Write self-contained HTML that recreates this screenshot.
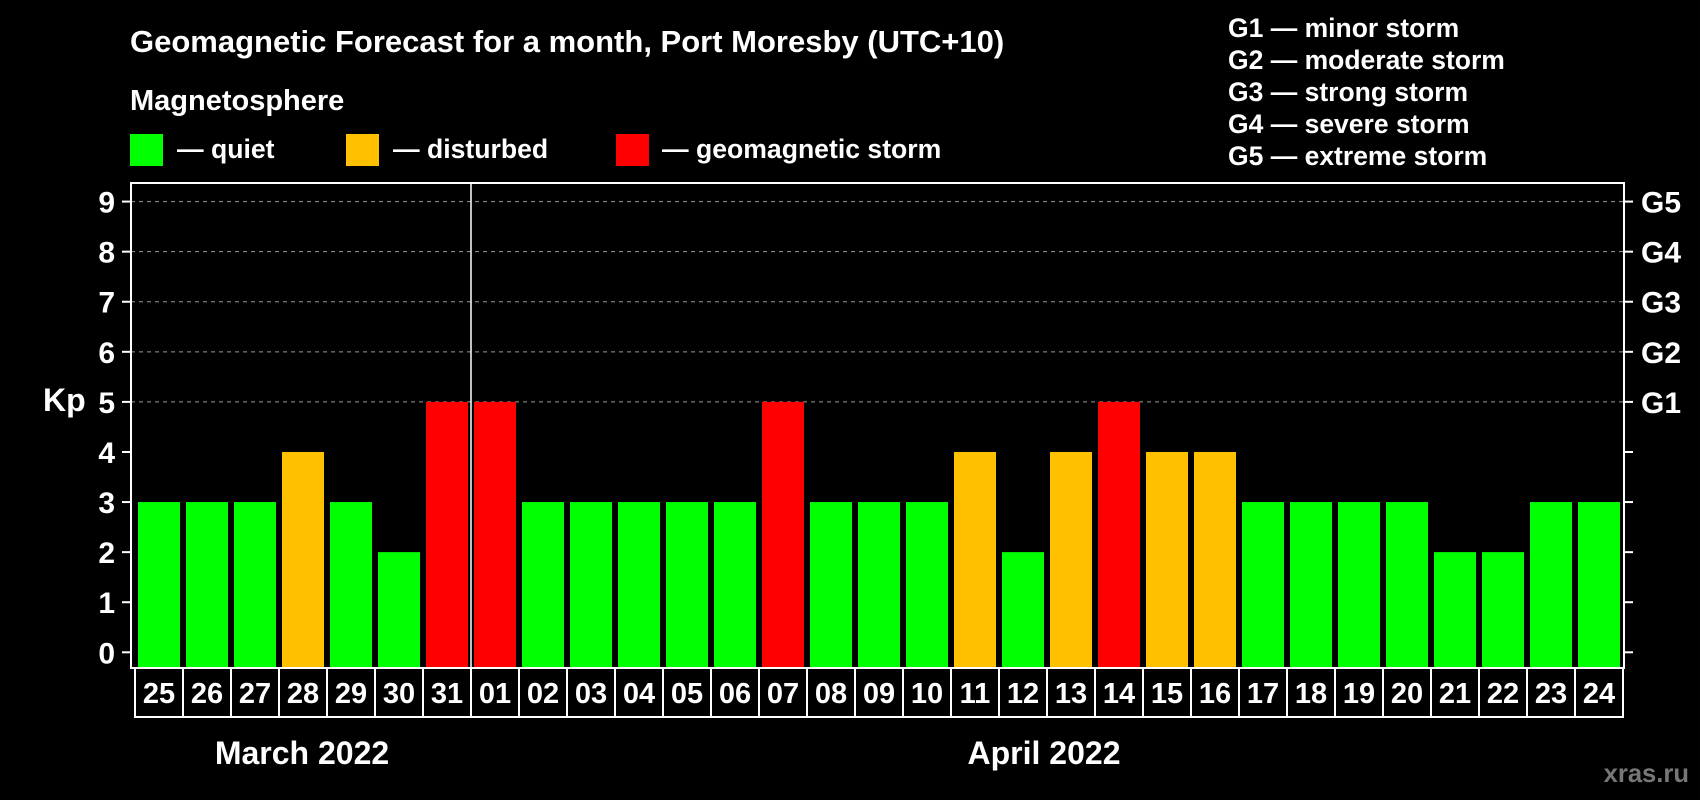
<!DOCTYPE html>
<html><head><meta charset="utf-8"><style>
html,body{margin:0;padding:0;background:#000;width:1700px;height:800px;overflow:hidden}
svg{display:block;font-family:"Liberation Sans",Arial,sans-serif;font-weight:bold}
</style></head><body>
<svg id="chart" width="1700" height="800" viewBox="0 0 1700 800">
<text x="130" y="52" fill="#fff" font-size="31">Geomagnetic Forecast for a month, Port Moresby (UTC+10)</text>
<text x="130" y="110" fill="#fff" font-size="29">Magnetosphere</text>
<g><rect x="130" y="134" width="33" height="32" fill="#00ff00"/><text x="177" y="158" fill="#fff" font-size="26.6">— quiet</text></g>
<g><rect x="346" y="134" width="33" height="32" fill="#ffc000"/><text x="393" y="158" fill="#fff" font-size="26.6">— disturbed</text></g>
<g><rect x="616" y="134" width="33" height="32" fill="#ff0000"/><text x="662" y="158" fill="#fff" font-size="26.6">— geomagnetic storm</text></g>
<g fill="#fff" font-size="26.5">
<text x="1228" y="37">G1 — minor storm</text>
<text x="1228" y="69">G2 — moderate storm</text>
<text x="1228" y="101">G3 — strong storm</text>
<text x="1228" y="133">G4 — severe storm</text>
<text x="1228" y="165">G5 — extreme storm</text>
</g>
<text x="43" y="411" fill="#fff" font-size="32">Kp</text>
<text x="302" y="764" fill="#fff" font-size="32" text-anchor="middle">March 2022</text>
<text x="1044" y="764" fill="#fff" font-size="32" text-anchor="middle">April 2022</text>
<text x="1689" y="782" fill="#777" font-size="25.6" text-anchor="end">xras.ru</text>
<g id="plot"></g>
</svg>
<script>
const days = ["25","26","27","28","29","30","31","01","02","03","04","05","06","07","08","09","10","11","12","13","14","15","16","17","18","19","20","21","22","23","24"];
const kpValues = [3,3,3,4,3,2,5,5,3,3,3,3,3,5,3,3,3,4,2,4,5,4,4,3,3,3,3,2,2,3,3];
const yTicks = [0,1,2,3,4,5,6,7,8,9];
const gLabels = ["G1","G2","G3","G4","G5"];
const gLevels = [5,6,7,8,9];
const monthSplit = 7;

const NS = "http://www.w3.org/2000/svg";
const plot = document.getElementById("plot");
const L = 131, R = 1624, T = 183, B = 668;
const x0 = 135, pitch = 48, barW = 42;
const y = v => 652.3 - v * 50.08;
const xBand = i => x0 + i * pitch;
function mk(tag, attrs, parent) {
  const e = document.createElementNS(NS, tag);
  for (const k in attrs) e.setAttribute(k, attrs[k]);
  (parent || plot).appendChild(e);
  return e;
}
gLevels.forEach(v => {
  const g = mk("line", {x1: L, x2: R, y1: y(v), y2: y(v), stroke: "#999", "stroke-width": 1, "stroke-dasharray": "4,4"});
  
  
});
kpValues.forEach((v, i) => {
  const c = v >= 5 ? "#ff0000" : v >= 4 ? "#ffc000" : "#00ff00";
  const r = mk("rect", {x: xBand(i) + 3, y: y(v), width: barW, height: B - y(v), fill: c});
  
  
});
const fr = mk("rect", {x: L, y: T, width: R - L, height: B - T, fill: "none", stroke: "#fff", "stroke-width": 2});


const sep = mk("line", {x1: xBand(monthSplit), x2: xBand(monthSplit), y1: T, y2: B, stroke: "#fff", "stroke-width": 1.5});


yTicks.forEach(v => {
  mk("line", {x1: L - 9, x2: L, y1: y(v), y2: y(v), stroke: "#fff", "stroke-width": 2});
  mk("line", {x1: R, x2: R + 9, y1: y(v), y2: y(v), stroke: "#fff", "stroke-width": 2});
  const t = mk("text", {x: 115, y: y(v) + 11, fill: "#fff", "font-size": 30, "text-anchor": "end"});
  t.textContent = v;
  
  
});
gLabels.forEach((g, i) => {
  const t = mk("text", {x: 1641, y: y(gLevels[i]) + 11, fill: "#fff", "font-size": 30});
  t.textContent = g;
  
  
});
days.forEach((d, i) => {
  const bx = mk("rect", {x: xBand(i), y: B, width: pitch, height: 49, fill: "none", stroke: "#fff", "stroke-width": 2});
  
  
  const t = mk("text", {x: xBand(i) + pitch / 2, y: B + 35, fill: "#fff", "font-size": 29, "text-anchor": "middle"});
  t.textContent = d;
  
  
});
</script>
</body></html>
